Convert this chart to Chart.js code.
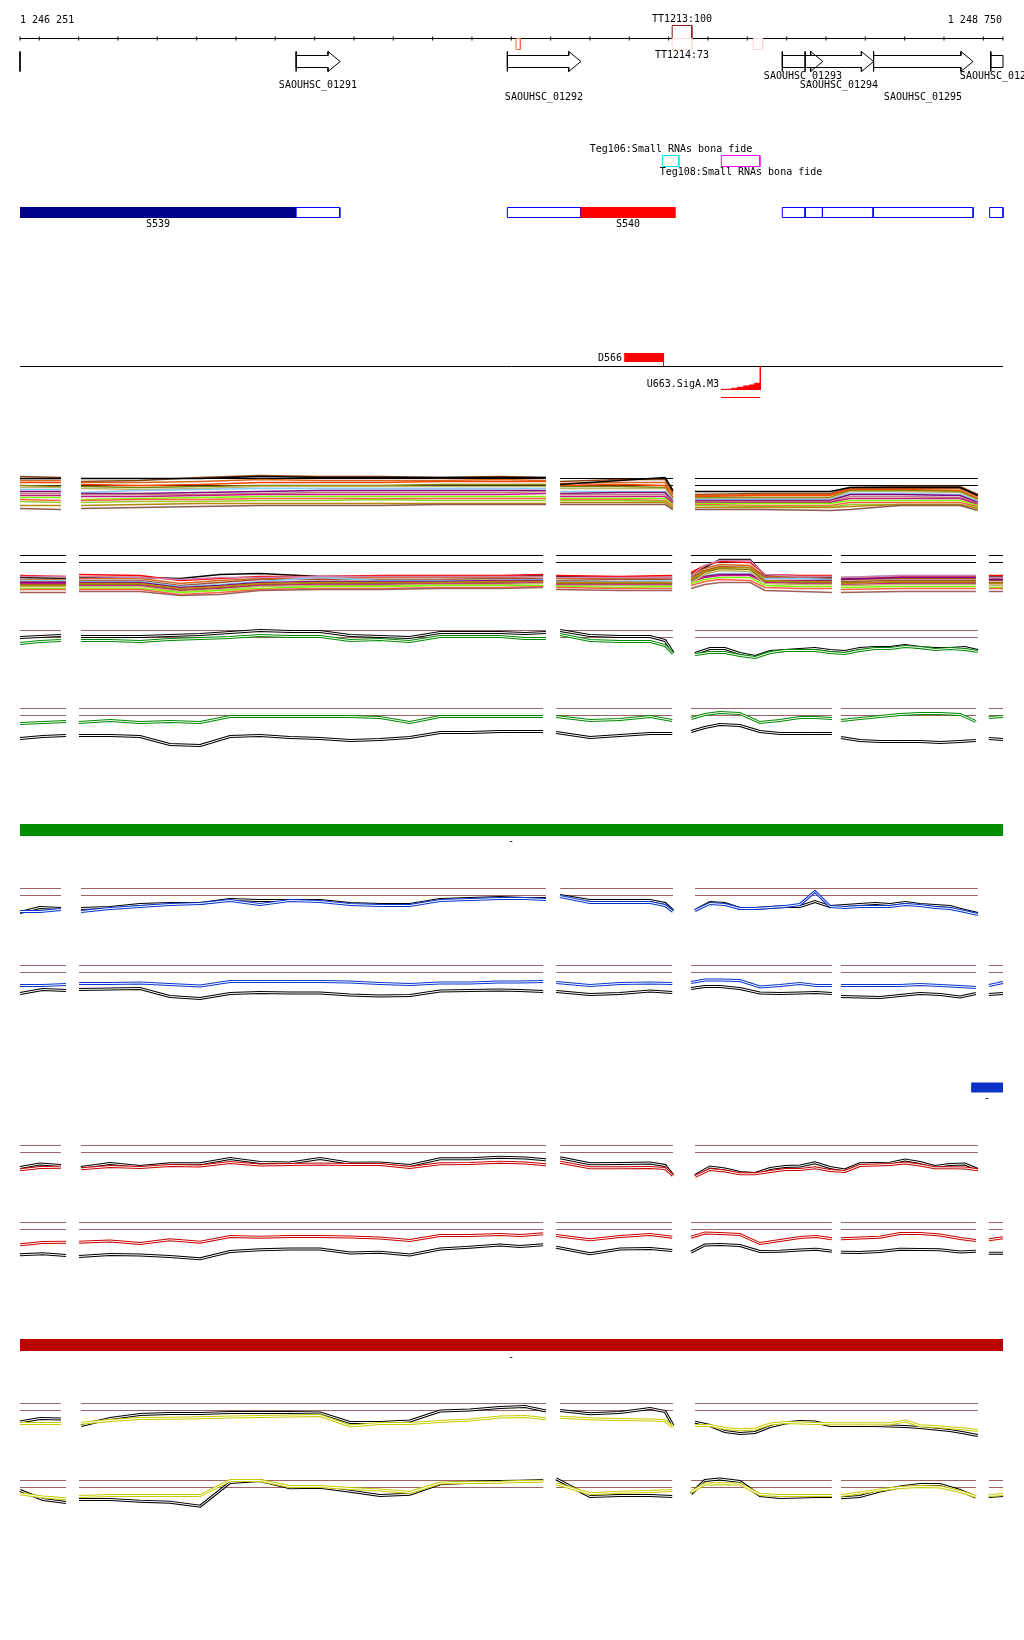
<!DOCTYPE html>
<html>
<head>
<meta charset="utf-8">
<script src="https://cdn.jsdelivr.net/npm/chart.js@4.4.1/dist/chart.umd.min.js"></script>
<style>
  html, body { margin: 0; padding: 0; background: #fff; }
  canvas { display: block; }
</style>
</head>
<body>
<canvas id="browser" width="1024" height="1640"></canvas>
<script>
// ---- region / ruler ----
const regionStart = 1246251;
const regionEnd = 1248750;
const rulerTicks = [1246251, 1246300, 1246400, 1246500, 1246600, 1246700, 1246800, 1246900, 1247000,
  1247100, 1247200, 1247300, 1247400, 1247500, 1247600, 1247700, 1247800, 1247900, 1248000,
  1248100, 1248200, 1248300, 1248400, 1248500, 1248600, 1248700, 1248750];

// ---- annotation ----
const geneNames = ['SAOUHSC_01291', 'SAOUHSC_01292', 'SAOUHSC_01293', 'SAOUHSC_01294', 'SAOUHSC_01295', 'SAOUHSC_01296'];
const geneStarts = [1246953, 1247490, 1248189, 1248247, 1248421, 1248719];
const geneEnds = [1247065, 1247677, 1248292, 1248421, 1248674, 1248760];

const tssNames = ['TT1213:100', 'TT1214:73', '', ''];
const tssStarts = [1247909, 1247909, 1247512, 1248115];
const tssEnds = [1247959, 1247959, 1247523, 1248139];
const tssStrands = ['+', '-', '-', '-'];

const tegNames = ['Teg106:Small RNAs bona fide', 'Teg108:Small RNAs bona fide'];
const tegStarts = [1247884, 1248034];
const tegEnds = [1247926, 1248132];

const segNames = ['S539', 'S540'];
const segFilledStarts = [1246251, 1247676];
const segFilledEnds = [1246953, 1247918];
const segOpenStarts = [1246953, 1247490, 1248189, 1248247, 1248291, 1248420, 1248716];
const segOpenEnds = [1247064, 1247676, 1248247, 1248291, 1248420, 1248674, 1248750];

const promName = 'D566';
const promStart = 1247787, promEnd = 1247887;
const sigName = 'U663.SigA.M3';
const sigPos = [1248033, 1248060, 1248075, 1248090, 1248105, 1248118, 1248133];
const sigScore = [0.7, 1.7, 2.7, 4, 5, 6.7, 7.3];

const barNames = ['-', '-', '-'];
const barStarts = [1246251, 1248669, 1246251];
const barEnds = [1248750, 1248750, 1248750];

// ---- probe positions ----
const segA = [[1246251, 1246355], [1246406, 1247588], [1247624, 1247911], [1247967, 1248686]];
const segB = [[1246251, 1246368], [1246401, 1247581], [1247614, 1247909], [1247957, 1248315], [1248338, 1248681], [1248714, 1248750]];

const probesA = [1246251, 1246302, 1246355, 1246380, 1246406, 1246480, 1246556, 1246632, 1246709, 1246785,
  1246861, 1246937, 1247014, 1247090, 1247166, 1247242, 1247319, 1247395, 1247471, 1247535, 1247588,
  1247606, 1247624, 1247700, 1247776, 1247853, 1247891, 1247911, 1247940, 1247967, 1248005, 1248043,
  1248081, 1248120, 1248158, 1248196, 1248234, 1248272, 1248310, 1248348, 1248386, 1248425, 1248463,
  1248501, 1248539, 1248577, 1248615, 1248653, 1248686];
const probesB = [1246251, 1246309, 1246368, 1246383, 1246401, 1246480, 1246556, 1246632, 1246709, 1246785,
  1246861, 1246937, 1247014, 1247090, 1247166, 1247242, 1247319, 1247395, 1247471, 1247522, 1247581,
  1247598, 1247614, 1247700, 1247776, 1247853, 1247909, 1247933, 1247957, 1247992, 1248030, 1248081,
  1248132, 1248183, 1248234, 1248275, 1248315, 1248327, 1248338, 1248386, 1248437, 1248488, 1248539,
  1248590, 1248641, 1248681, 1248698, 1248714, 1248750];
const probesHA = [1246251, 1246355, 1246380, 1246406, 1246556, 1246709, 1246861, 1247014, 1247166, 1247319,
  1247471, 1247588, 1247606, 1247624, 1247776, 1247891, 1247911, 1247940, 1247967, 1248132, 1248310,
  1248361, 1248488, 1248641, 1248686];
const probesHB = [1246251, 1246368, 1246383, 1246401, 1246556, 1246658, 1246759, 1246861, 1247014, 1247166,
  1247319, 1247471, 1247581, 1247598, 1247614, 1247776, 1247909, 1247933, 1247957, 1247992, 1248030,
  1248107, 1248145, 1248234, 1248315, 1248327, 1248338, 1248488, 1248681, 1248698, 1248714, 1248750];

// ---- multi-sample tracks ----
const track1Series = [
  [42, 41, null, 37, 38, 41, 43, 42, 42, 41, 42, 41, null, 37, 39, 39, 26, null, 24, 25, 25, 31, 32, 32, 24],
  [38, 38, null, 36, 36, 37, 39, 38, 38, 38, 39, 38, null, 35, 36, 36, 24, null, 23, 24, 24, 30, 30, 30, 22],
  [36, 36, null, 34, 33, 34, 36, 36, 36, 37, 37, 37, null, 33, 34, 33, 21, null, 22, 23, 23, 29, 29, 28, 20],
  [33, 32, null, 32, 31, 32, 33, 33, 33, 34, 34, 34, null, 32, 32, 31, 20, null, 21, 21, 21, 28, 28, 27, 19],
  [31, 31, null, 30, 29, 30, 32, 32, 32, 32, 32, 32, null, 30, 30, 30, 19, null, 20, 20, 20, 27, 27, 26, 18],
  [29, 29, null, 26, 28, 29, 30, 30, 30, 30, 30, 30, null, 27, 27, 27, 18, null, 19, 19, 19, 25, 25, 24, 17],
  [27, 27, null, 25, 25, 26, 27, 28, 28, 28, 28, 28, null, 25, 26, 26, 17, null, 18, 18, 18, 24, 24, 23, 16],
  [25, 25, null, 24, 24, 24, 25, 26, 26, 26, 26, 27, null, 24, 24, 24, 16, null, 17, 17, 17, 22, 22, 21, 15],
  [23, 23, null, 22, 22, 23, 24, 24, 24, 24, 24, 25, null, 22, 22, 22, 15, null, 16, 16, 16, 20, 20, 20, 14],
  [21, 21, null, 19, 20, 21, 22, 22, 22, 22, 22, 22, null, 20, 20, 20, 14, null, 15, 15, 15, 18, 18, 18, 13],
  [19, 18, null, 18, 19, 19, 20, 20, 20, 20, 20, 20, null, 19, 19, 18, 13, null, 14, 13, 13, 16, 16, 16, 12],
  [17, 16, null, 16, 17, 17, 18, 18, 19, 18, 18, 18, null, 18, 18, 17, 12, null, 13, 12, 12, 14, 14, 14, 11],
  [13, 13, null, 13, 14, 15, 15, 15, 15, 15, 15, 15, null, 16, 16, 16, 11, null, 11, 11, 11, 12, 14, 14, 10],
  [10, 9, null, 10, 11, 12, 13, 13, 13, 14, 14, 14, null, 14, 14, 14, 9, null, 9, 9, 8, 9, 13, 13, 8],
  [40, 40, null, 40, 40, 40, 42, 41, 41, 41, 41, 41, null, 34, 38, 41, 28, null, 27, 27, 27, 31, 31, 31, 23]
];
const track1Colors = ['#8b4513', '#d2691e', '#ff4500', '#808000', '#bdb76b', '#87cefa', '#800080', '#c08080',
  '#c71585', '#7cfc00', '#ff6347', '#9acd32', '#b8860b', '#8c5a50', '#000000'];

const track2Series = [
  [18, 17, null, 18, 18, 17, 21, 22, 19, 19, 19, 19, 20, null, 19, 18, 18, null, 21, 28, 36, 36, 20, 18, 18, null, 17, 17, 17, null, 19, 19],
  [20, 19, null, 21, 20, 15, 17, 19, 19, 20, 20, 20, 21, null, 20, 19, 20, null, 23, 30, 34, 33, 21, 20, 20, null, 18, 19, 19, null, 20, 20],
  [16, 16, null, 17, 17, 12, 15, 17, 17, 18, 18, 18, 19, null, 17, 17, 17, null, 20, 27, 31, 30, 19, 19, 19, null, 16, 17, 17, null, 17, 17],
  [14, 14, null, 15, 15, 10, 13, 16, 16, 16, 16, 17, 17, null, 15, 16, 16, null, 18, 25, 29, 28, 18, 18, 17, null, 14, 15, 15, null, 15, 15],
  [15, 15, null, 14, 14, 9, 11, 14, 18, 15, 15, 15, 16, null, 14, 14, 15, null, 17, 20, 22, 22, 17, 17, 16, null, 18, 20, 20, null, 18, 18],
  [13, 13, null, 13, 13, 8, 10, 13, 14, 14, 14, 15, 15, null, 13, 13, 13, null, 16, 19, 21, 21, 15, 15, 15, null, 16, 18, 18, null, 16, 16],
  [11, 11, null, 11, 11, 6, 8, 11, 12, 12, 13, 13, 14, null, 12, 12, 12, null, 15, 23, 27, 26, 14, 13, 13, null, 13, 13, 13, null, 13, 13],
  [12, 12, null, 10, 10, 5, 7, 10, 11, 11, 12, 12, 13, null, 11, 11, 11, null, 14, 18, 20, 20, 13, 12, 12, null, 11, 12, 12, null, 12, 12],
  [9, 9, null, 9, 9, 4, 6, 9, 10, 10, 11, 11, 12, null, 10, 10, 10, null, 13, 21, 25, 24, 12, 11, 11, null, 10, 11, 11, null, 10, 10],
  [7, 7, null, 7, 7, 3, 5, 7, 9, 9, 10, 10, 10, null, 9, 8, 9, null, 12, 16, 18, 18, 10, 9, 9, null, 8, 9, 9, null, 8, 8],
  [6, 6, null, 6, 6, 1, 3, 6, 7, 7, 8, 8, 9, null, 8, 7, 7, null, 10, 14, 16, 15, 8, 7, 7, null, 6, 7, 7, null, 7, 7],
  [3, 3, null, 4, 4, 0, 1, 5, 6, 6, 7, 7, 8, null, 6, 5, 5, null, 7, 11, 13, 13, 5, 4, 3, null, 3, 4, 4, null, 4, 4],
  [19, 19, null, 19, 18, 16, 18, 18, 19, 19, 19, 19, 19, null, 18, 18, 18, null, 20, 30, 35, 35, 21, 19, 19, null, 18, 20, 20, null, 18, 18],
  [10, 10, null, 12, 12, 7, 9, 12, 13, 13, 13, 14, 14, null, 13, 13, 13, null, 16, 24, 28, 28, 15, 14, 14, null, 12, 14, 14, null, 12, 12]
];
const track2Colors = ['#000000', '#ff0000', '#d2691e', '#a0522d', '#87cefa', '#800080', '#808000', '#c71585',
  '#bdb76b', '#7cfc00', '#ff6347', '#a06060', '#d080b0', '#b8860b'];

// ---- replicate profile tracks (two conditions each) ----
const t3Black = [33, 34, 35, null, 34, 34, 34, 35, 36, 38, 40, 39, 39, 35, 34, 33, 38, 38, 38, 37, 38, null, 40, 35, 34, 34, 30, 18, null, 17, 22, 22, 17, 14, 19, 20, 21, 22, 20, 19, 22, 23, 23, 25, 23, 22, 22, 23, 20];
const t3Green = [27, 29, 30, null, 30, 30, 29, 31, 32, 33, 35, 34, 34, 30, 31, 29, 34, 34, 34, 32, 32, null, 36, 30, 29, 29, 25, 17, null, 16, 18, 18, 15, 13, 18, 20, 20, 20, 18, 17, 20, 22, 22, 24, 23, 21, 22, 21, 19];
const t4Black = [10, 12, 13, null, 13, 13, 12, 4, 3, 12, 13, 11, 10, 8, 9, 11, 16, 16, 17, 17, 17, null, 16, 11, 13, 15, 15, null, 17, 21, 24, 23, 17, 15, 15, 15, 15, null, 11, 8, 7, 7, 7, 6, 7, 8, null, 10, 9];
const t4Green = [25, 26, 27, null, 26, 28, 26, 27, 26, 32, 32, 32, 32, 32, 31, 26, 32, 32, 32, 32, 32, null, 32, 28, 29, 32, 28, null, 30, 34, 36, 35, 26, 28, 31, 31, 30, null, 28, 30, 32, 34, 35, 35, 34, 27, null, 31, 32];
const t5Black = [16, 21, 20, null, 20, 21, 24, 25, 25, 29, 28, 28, 28, 25, 24, 24, 29, 30, 31, 30, 30, null, 33, 28, 28, 28, 25, 18, null, 18, 26, 25, 20, 20, 21, 22, 22, 27, 22, 23, 24, 25, 24, 26, 24, 23, 22, 18, 15];
const t5Blue = [17, 17, 19, null, 17, 20, 22, 24, 25, 28, 24, 28, 27, 24, 23, 23, 28, 29, 30, 30, 29, null, 32, 26, 26, 26, 23, 17, null, 18, 25, 24, 20, 20, 21, 22, 24, 37, 22, 21, 22, 22, 22, 24, 23, 21, 20, 17, 14];
const t6Black = [12, 16, 15, null, 16, 16.5, 17, 9, 7, 12, 13, 12.5, 12.5, 10.5, 9.5, 10, 14.5, 15, 15.5, 15, 14, null, 14, 11, 12, 14.5, 13, null, 17, 19, 19, 17, 12.5, 12, 12.5, 13, 12, null, 9, 8.5, 8, 10, 12, 11, 8.5, 12, null, 11, 12];
const t6Blue = [20, 20, 21, null, 22, 22, 22.5, 21, 19.5, 24, 24, 24, 24, 23.5, 22, 21, 22.5, 22.5, 23.5, 23.5, 24, null, 23, 20, 22, 22.5, 22, null, 23, 25.5, 25.5, 25, 18.5, 20, 22, 20, 20, null, 20, 20, 20, 20, 21, 20, 19, 18, null, 20, 23];
const t7Black = [18, 21.5, 20, null, 18, 22, 19, 21.7, 21.7, 27, 23, 22.5, 27, 22.3, 22.5, 20, 26.7, 26.7, 28.3, 27.5, 25.7, null, 27.7, 21.7, 22, 22.5, 20, 10, null, 10, 18.5, 16.5, 13, 12, 17, 19, 19.5, 22.7, 18, 15.5, 21.7, 22, 22.3, 25.5, 23, 19, 21, 21.5, 16];
const t7Red = [15.7, 18, 18.3, null, 16.7, 19, 18, 20, 19.5, 23, 20.5, 21, 21.5, 21, 21, 18, 21.7, 22, 23.3, 22.5, 20.7, null, 23.3, 17.7, 17.7, 18, 17, 10, null, 9, 16, 14.5, 11.7, 11.7, 14, 16, 16, 17.7, 15, 14, 20, 20.5, 21, 22.5, 20.5, 17.7, 17.7, 17.5, 15.7];
const t8Black = [7.7, 8.7, 7, null, 6, 8, 7.5, 6, 3.7, 11, 12.7, 13.5, 13.5, 9.5, 10.3, 7.5, 13.5, 15.3, 17.5, 16, 17.7, null, 15.3, 8.7, 13.5, 14, 12, null, 10.3, 17.5, 18, 17, 11, 11.3, 12.5, 13.3, 11.3, null, 10.3, 10, 11, 13.3, 13, 12.7, 10.5, 11.3, null, 9.3, 9.3];
const t8Red = [17.7, 20, 20.3, null, 20.3, 21.5, 19, 22.7, 20.3, 26, 25.3, 26, 26, 25.5, 24.5, 22, 27, 27, 28, 27, 28.7, null, 27, 22.7, 26, 28, 25.3, null, 25.3, 29.5, 29, 28, 19, 22, 25, 26, 23.7, null, 23.7, 24.5, 25.3, 29, 29, 27.5, 24, 22, null, 22.7, 24.7];
const t9Black = [21.5, 25, 24.5, null, 18, 25, 29, 30, 30, 31, 31, 31, 30.5, 21, 21, 22.5, 32.5, 33.5, 36, 37, 32.5, null, 33, 29.7, 31, 35, 32, 18, null, 21.3, 18, 12, 10, 11, 17, 20.5, 22, 21.5, 18, 18, 18, 18, 17.5, 17, 16, 14.5, 13, 10.5, 8];
const t9Yellow = [20, 20, 20, null, 20.3, 23, 25, 25.3, 25.7, 26.5, 27, 27.5, 28, 17.5, 20, 20, 22, 23.5, 26.5, 27, 24.7, null, 26.3, 24.7, 24, 23.5, 23, 16.3, null, 18, 18, 15, 13.7, 14.5, 19.5, 21, 20.5, 20, 19.7, 19.7, 19.7, 19.7, 19.7, 22.5, 17.7, 17, 15.7, 14.5, 13];
const t10Black = [30, 21, 18, null, 21, 21, 19.3, 18.3, 14.3, 38, 40, 32.7, 33.3, 29.3, 25, 26.3, 36.7, 38.3, 39, 39.3, 40, null, 41.7, 24, 25, 25, 24, null, 26.7, 40, 41.5, 39, 25, 23, 23.5, 24, 24, null, 22.7, 24, 29.5, 33.5, 36, 36, 30, 23.3, null, 24, 25];
const t10Yellow = [26.7, 23.5, 21.7, null, 24, 25, 25, 25, 25, 40, 40, 34, 34, 32, 30.5, 28, 37.5, 38, 38.3, 39, 39.3, null, 36.7, 26.7, 28.3, 29, 30, null, 28.3, 36.5, 36.7, 36.5, 26, 25, 25, 25, 25, null, 25, 27.5, 30.5, 33, 34, 33.5, 29, 24, null, 25, 26];

// reference levels drawn across every probed segment
const refLevels = [40, 33];

// ---- layout (pixels) ----
const W = 1024, H = 1640;
const plotLeft = 20, plotRight = 1003;
const trackTops = { y1: 478.5, y2: 555.5, y3: 630.5, y4: 708.5, y5: 888.5, y6: 965.5, y7: 1145.5, y8: 1222.5, y9: 1403.5, y10: 1480.5 };
const geneLabelRows = [85, 97, 76, 85, 97, 76];
const barRows = [830, 1087.5, 1345];
const barHeights = [12, 10, 12];
const barColors = ['#008f00', '#0a32c8', '#bb0000'];
const barLabelRows = [841, 1098, 1357];

const bpPerPx = (regionEnd - regionStart) / (plotRight - plotLeft);
const xMin = regionStart - plotLeft * bpPerPx;
const xMax = xMin + W * bpPerPx;

const datasets = [];
let drawIndex = 0;
function add(ds) {
  datasets.push(Object.assign({ pointRadius: 0, borderWidth: 1, fill: false, tension: 0, order: -(drawIndex++) }, ds));
}
function pts(xs, ys) { return xs.map((x, i) => ({ x: x, y: ys[i] })); }
function hline(x0, x1, y, color, width) {
  add({ data: [{ x: x0, y: y }, { x: x1, y: y }], borderColor: color, borderWidth: width || 1, yAxisID: 'yp' });
}
function vline(x, y0, y1, color) {
  add({ data: [{ x: x, y: y0 }, { x: x, y: y1 }], borderColor: color, yAxisID: 'yp' });
}
function box(x0, x1, y0, y1, color) {
  add({ data: [{ x: x0, y: y0 }, { x: x1, y: y0 }, { x: x1, y: y1 }, { x: x0, y: y1 }, { x: x0, y: y0 }], borderColor: color, yAxisID: 'yp' });
}
function refLines(segs, axis, color) {
  refLevels.forEach(level => {
    const data = [];
    segs.forEach((s, i) => {
      if (i > 0) data.push({ x: (segs[i - 1][1] + s[0]) / 2, y: null });
      data.push({ x: s[0], y: level }, { x: s[1], y: level });
    });
    add({ data: data, borderColor: color, yAxisID: axis });
  });
}
// a replicate pair drawn as a hollow double line
function pair(probes, values, color, axis) {
  add({ data: pts(probes, values), borderColor: color, borderWidth: 3, yAxisID: axis });
  add({ data: pts(probes, values), borderColor: '#ffffff', borderWidth: 1, yAxisID: axis });
}

// ---- ruler ----
hline(regionStart, regionEnd, 38.5, '#000');
add({ data: rulerTicks.map(t => ({ x: t, y: 38.5 })), showLine: false, pointStyle: 'line', pointRotation: 90,
  pointRadius: 2, pointBorderColor: '#000', pointBorderWidth: 1, yAxisID: 'yp' });

// TSS marks
const tssColors = ['#8b1c1c', '#fcdcd4', '#ff6a4a', '#f8d8d0'];
tssNames.forEach((n, i) => {
  if (tssStrands[i] === '+') box(tssStarts[i], tssEnds[i], 25.5, 38.5, tssColors[i]);
  else box(tssStarts[i], tssEnds[i], 38.5, 49.5, tssColors[i]);
});

// genes
const headLen = 31;
vline(regionStart, 51.5, 71.5, '#000');
geneNames.forEach((n, i) => {
  const s = geneStarts[i], e = geneEnds[i];
  let shape;
  if (e > regionEnd) {
    shape = [{ x: s, y: 51.5 }, { x: s, y: 71.5 }, { x: s, y: 67.5 }, { x: regionEnd, y: 67.5 },
      { x: regionEnd, y: 55.5 }, { x: s, y: 55.5 }];
  } else {
    const h = e - headLen;
    shape = [{ x: s, y: 51.5 }, { x: s, y: 71.5 }, { x: s, y: 67.5 }, { x: h, y: 67.5 }, { x: h, y: 71.5 },
      { x: e, y: 61.5 }, { x: h, y: 51.5 }, { x: h, y: 55.5 }, { x: s, y: 55.5 }];
  }
  add({ data: shape, borderColor: '#000', yAxisID: 'yp' });
});

// small RNAs
const tegColors = ['#00e5ee', '#ff00ff'];
tegNames.forEach((n, i) => box(tegStarts[i], tegEnds[i], 155.5, 166.5, tegColors[i]));

// transcript segments
const segColors = ['#00008b', '#ff0000'];
segOpenStarts.forEach((s, i) => box(s, segOpenEnds[i], 207.5, 217.5, '#0000ff'));
segFilledStarts.forEach((s, i) => hline(s, segFilledEnds[i], 212.5, segColors[i], 11));

// promoter / sigma site
hline(promStart, promEnd, 357.5, '#ff0000', 9);
vline(promEnd, 353, 366.5, '#ff0000');
hline(regionStart, regionEnd, 366.5, '#000');
vline(sigPos[sigPos.length - 1], 366.5, 390, '#ff0000');
add({ data: pts(sigPos, sigScore), borderColor: '#ff0000', backgroundColor: '#ff0000', stepped: true,
  fill: 'origin', yAxisID: 'yu' });
hline(sigPos[0], sigPos[sigPos.length - 1], 397.5, '#ff0000');

// ---- multi-sample tracks ----
refLines(segA, 'y1', '#000');
track1Series.forEach((v, i) => add({ data: pts(probesHA, v), borderColor: track1Colors[i], borderWidth: 1.5, yAxisID: 'y1' }));
refLines(segB, 'y2', '#000');
track2Series.forEach((v, i) => add({ data: pts(probesHB, v), borderColor: track2Colors[i], borderWidth: 1.5, yAxisID: 'y2' }));

// ---- profile tracks ----
const refColor = '#9c6464';
const profiles = [
  ['y3', segA, probesA, t3Black, t3Green, '#008a00'],
  ['y4', segB, probesB, t4Black, t4Green, '#008a00'],
  ['y5', segA, probesA, t5Black, t5Blue, '#0a36d0'],
  ['y6', segB, probesB, t6Black, t6Blue, '#0a36d0'],
  ['y7', segA, probesA, t7Black, t7Red, '#c80000'],
  ['y8', segB, probesB, t8Black, t8Red, '#c80000'],
  ['y9', segA, probesA, t9Black, t9Yellow, '#c8cc00'],
  ['y10', segB, probesB, t10Black, t10Yellow, '#c8cc00']
];
profiles.forEach(([axis, segs, probes, black, other, color]) => {
  refLines(segs, axis, refColor);
  pair(probes, black, '#000000', axis);
  pair(probes, other, color, axis);
});

// coverage bars
barStarts.forEach((s, i) => hline(s, barEnds[i], barRows[i], barColors[i], barHeights[i]));

// ---- scales ----
const scales = {
  x: { type: 'linear', display: false, min: xMin, max: xMax },
  yp: { type: 'linear', display: false, min: 0, max: H, reverse: true },
  yu: { type: 'linear', display: false, min: 390 - H, max: 390 }
};
Object.keys(trackTops).forEach(id => {
  const top = trackTops[id];
  scales[id] = { type: 'linear', display: false, min: top + 40 - H, max: top + 40 };
});

// ---- text ----
function fmtPos(n) { return String(n).replace(/\B(?=(\d{3})+(?!\d))/g, ' '); }
const labels = [];
labels.push({ text: fmtPos(regionStart), x: regionStart, row: 20.5, align: 'left' });
labels.push({ text: fmtPos(regionEnd), x: regionEnd, row: 20.5, align: 'right', dx: -1 });
tssNames.forEach((n, i) => {
  if (n) labels.push({ text: n, x: (tssStarts[i] + tssEnds[i]) / 2, row: tssStrands[i] === '+' ? 19 : 55.5 });
});
geneNames.forEach((n, i) => labels.push({ text: n, x: (geneStarts[i] + geneEnds[i]) / 2, row: geneLabelRows[i] }));
tegNames.forEach((n, i) => labels.push({ text: n, x: (tegStarts[i] + tegEnds[i]) / 2, row: i === 0 ? 149 : 172.5 }));
segNames.forEach((n, i) => labels.push({ text: n, x: (segFilledStarts[i] + segFilledEnds[i]) / 2, row: 224 }));
labels.push({ text: promName, x: promStart, row: 358, align: 'right', dx: -2 });
labels.push({ text: sigName, x: sigPos[0], row: 384.5, align: 'right', dx: -2 });
barNames.forEach((n, i) => labels.push({ text: n, x: (barStarts[i] + barEnds[i]) / 2, row: barLabelRows[i] }));

const textPlugin = {
  id: 'trackText',
  afterDatasetsDraw(chart) {
    const ctx = chart.ctx;
    const xs = chart.scales.x, ys = chart.scales.yp;
    ctx.save();
    ctx.font = '10px "DejaVu Sans Mono", monospace';
    ctx.fillStyle = '#000';
    ctx.textBaseline = 'middle';
    labels.forEach(l => {
      ctx.textAlign = l.align || 'center';
      ctx.fillText(l.text, Math.round(xs.getPixelForValue(l.x)) + (l.dx || 0), ys.getPixelForValue(l.row));
    });
    ctx.restore();
  }
};

new Chart(document.getElementById('browser'), {
  type: 'line',
  data: { datasets: datasets },
  options: {
    responsive: false,
    animation: false,
    devicePixelRatio: 1,
    events: [],
    layout: { padding: 0, autoPadding: false },
    elements: { point: { radius: 0 }, line: { tension: 0 } },
    plugins: { legend: { display: false }, tooltip: { enabled: false } },
    scales: scales
  },
  plugins: [textPlugin]
});
</script>
</body>
</html>
